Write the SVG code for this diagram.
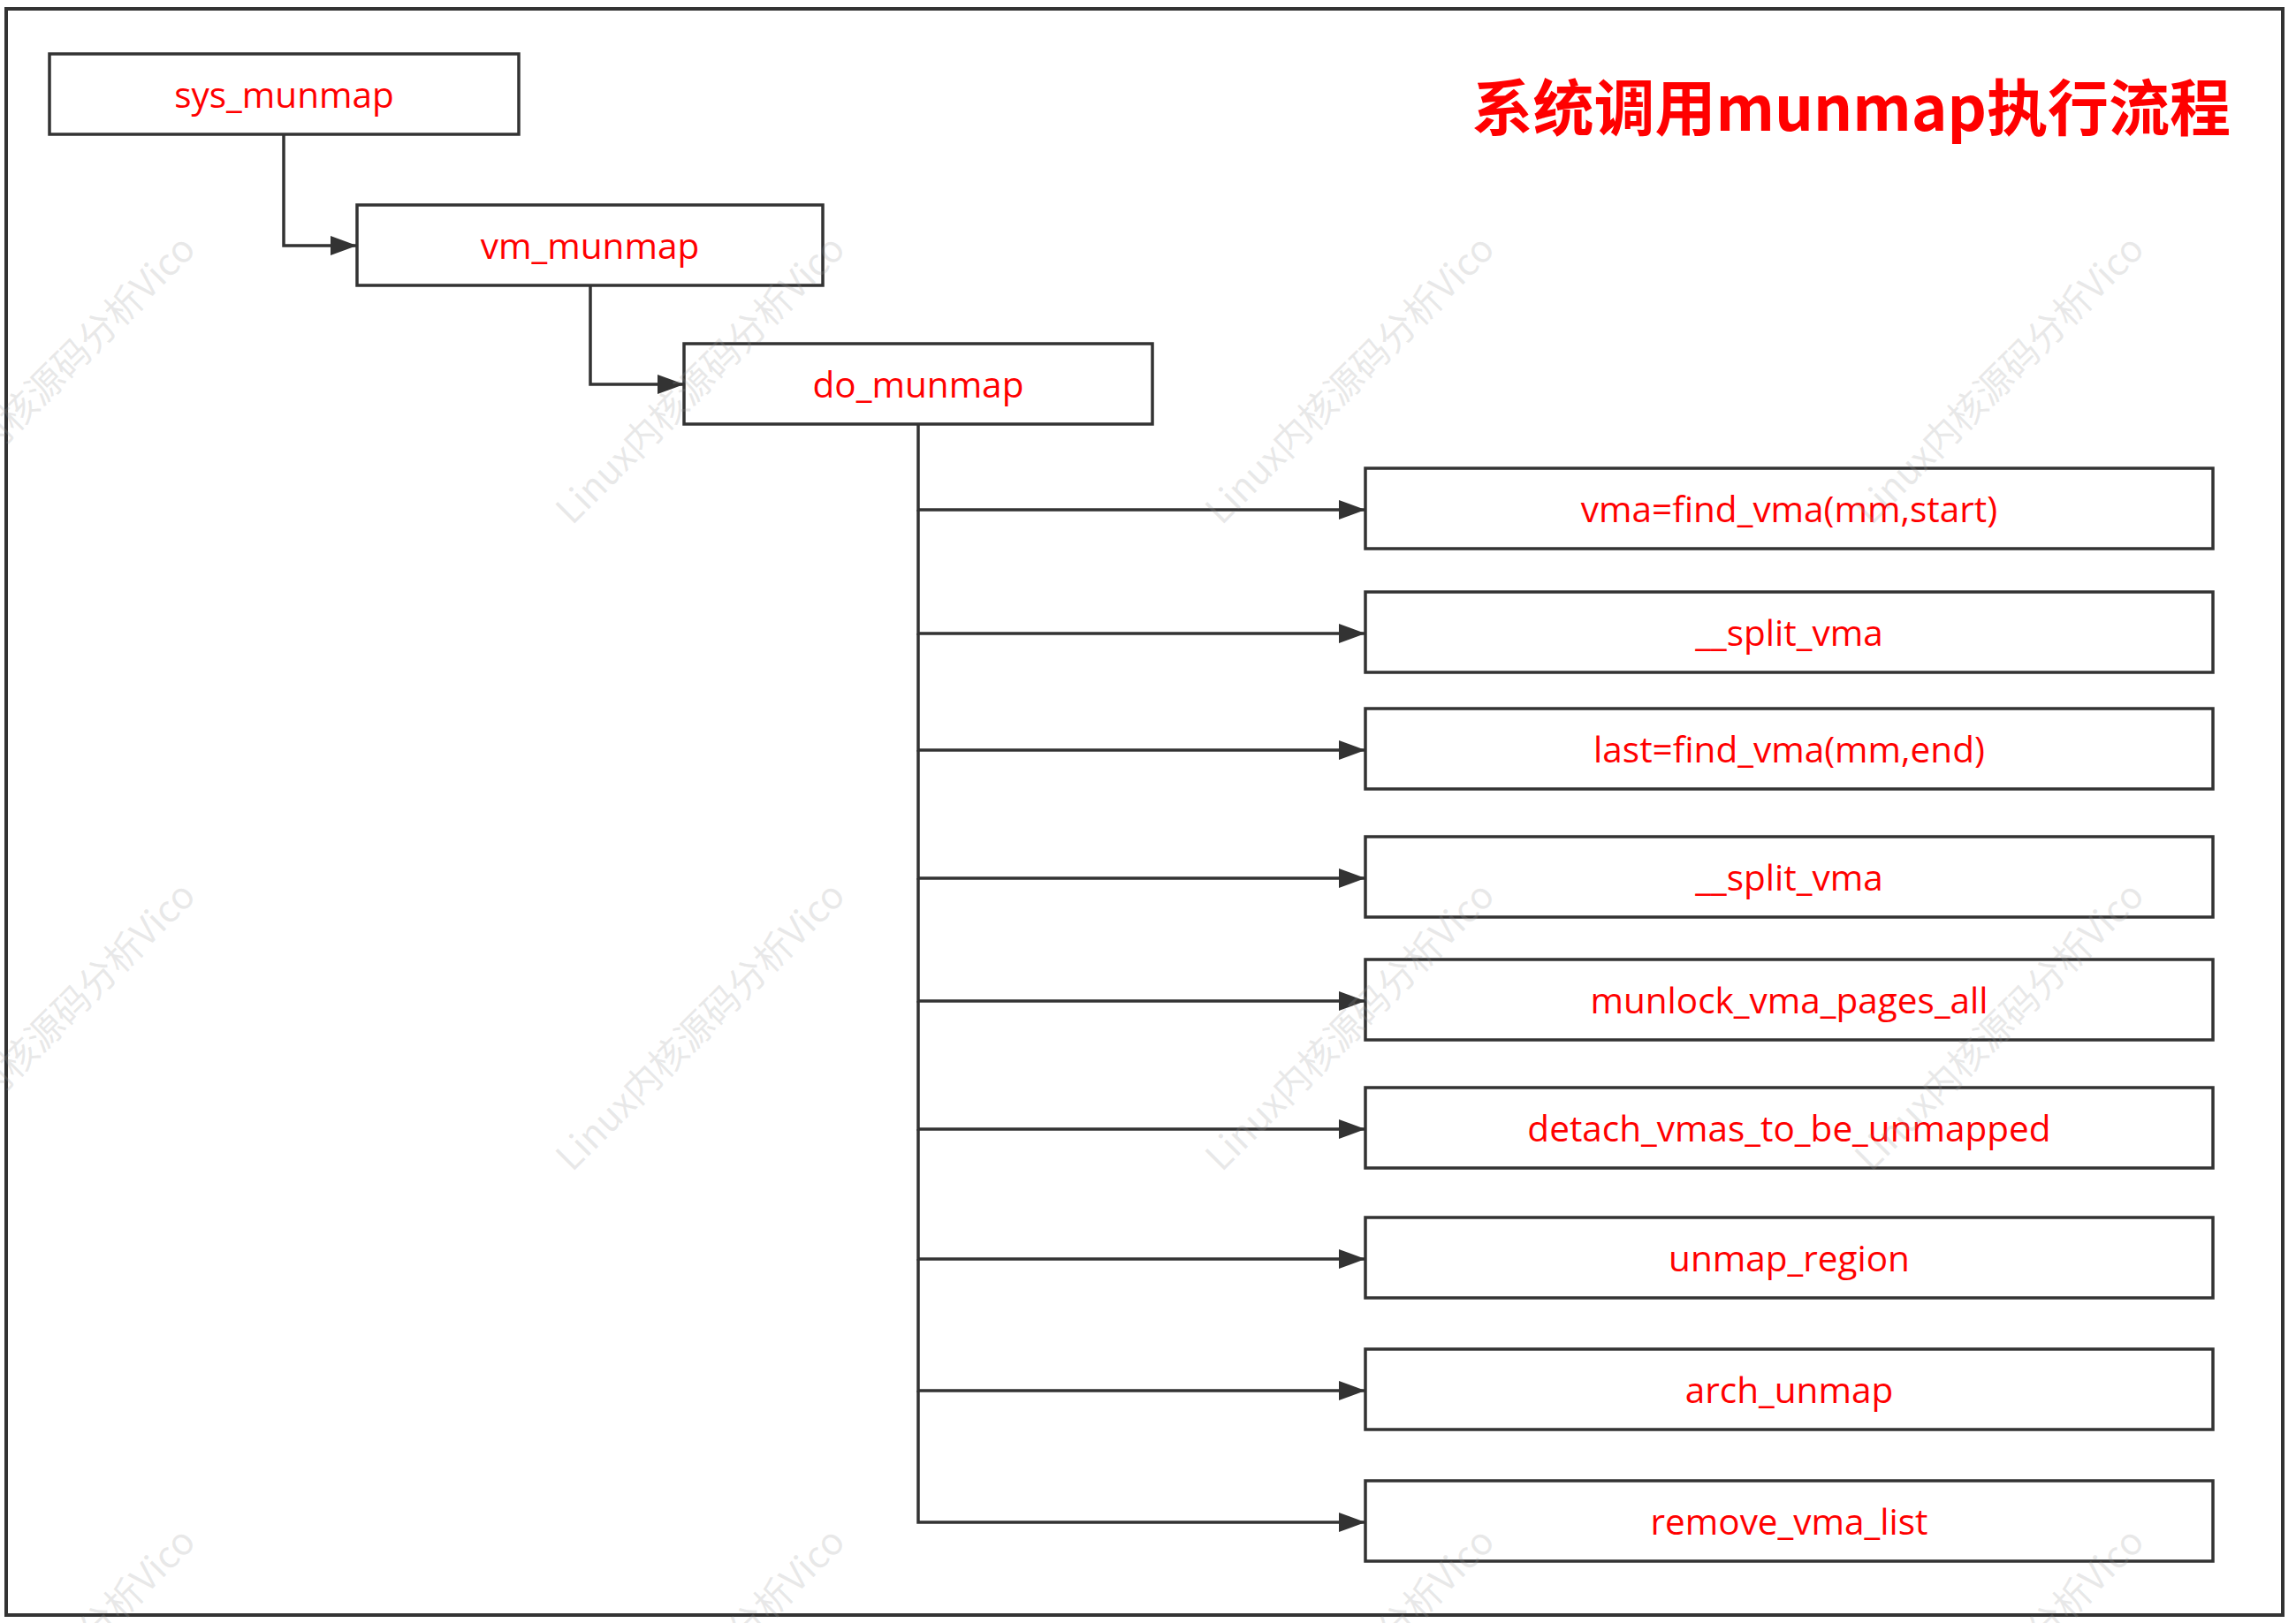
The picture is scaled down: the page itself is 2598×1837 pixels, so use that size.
<svg xmlns="http://www.w3.org/2000/svg" width="2598" height="1837" viewBox="0 0 2598 1837">
  <style>
    .box { fill: #ffffff; stroke: #333333; stroke-width: 3.5; }
    .lbl { fill: #ff0000; font-family: "Open Sans", "Noto Sans", sans-serif; font-size: 40.5px; text-anchor: middle; }
    .conn { fill: none; stroke: #333333; stroke-width: 3.5; }
    .wm { fill: #9a9a9a; fill-opacity: 0.22; font-family: "Noto Sans CJK SC", "Noto Sans", sans-serif; font-size: 42px; text-anchor: middle; }
    .title { fill: #ff0000; font-family: "Noto Sans CJK SC", "Noto Sans", sans-serif; font-size: 69px; font-weight: bold; text-anchor: end; }
  </style>
  <defs>
    <marker id="arrow" markerUnits="userSpaceOnUse" viewBox="0 0 30 22" refX="30" refY="11" markerWidth="30" markerHeight="22" orient="auto">
      <path d="M0,0 L30,11 L0,22 z" fill="#333333"/>
    </marker>
  </defs>
  <rect x="0" y="0" width="2598" height="1837" fill="#ffffff"/>
  <rect id="frame" x="7" y="10" width="2576" height="1818" fill="none" stroke="#333333" stroke-width="4"/>

  <text class="title" x="2524" y="148">系统调用munmap执行流程</text>

  <g id="connectors">
    <path class="conn" d="M321 152 V278 H404" marker-end="url(#arrow)"/>
    <path class="conn" d="M668 323 V435 H774" marker-end="url(#arrow)"/>
    <path class="conn" d="M1039 480 V577 H1545" marker-end="url(#arrow)"/>
    <path class="conn" d="M1039 577 V717 H1545" marker-end="url(#arrow)"/>
    <path class="conn" d="M1039 717 V849 H1545" marker-end="url(#arrow)"/>
    <path class="conn" d="M1039 849 V994 H1545" marker-end="url(#arrow)"/>
    <path class="conn" d="M1039 994 V1133 H1545" marker-end="url(#arrow)"/>
    <path class="conn" d="M1039 1133 V1278 H1545" marker-end="url(#arrow)"/>
    <path class="conn" d="M1039 1278 V1425 H1545" marker-end="url(#arrow)"/>
    <path class="conn" d="M1039 1425 V1574 H1545" marker-end="url(#arrow)"/>
    <path class="conn" d="M1039 1574 V1723 H1545" marker-end="url(#arrow)"/>
  </g>

  <g id="sys_munmap"><rect class="box" x="56" y="61" width="531" height="91"/><text class="lbl" x="321.5" y="122">sys_munmap</text></g>
  <g id="vm_munmap"><rect class="box" x="404" y="232" width="527" height="91"/><text class="lbl" x="667.5" y="293">vm_munmap</text></g>
  <g id="do_munmap"><rect class="box" x="774" y="389" width="530" height="91"/><text class="lbl" x="1039" y="450">do_munmap</text></g>

  <g id="find_vma_start"><rect class="box" x="1545" y="530" width="959" height="91"/><text class="lbl" x="2024.5" y="591">vma=find_vma(mm,start)</text></g>
  <g id="split_vma_1"><rect class="box" x="1545" y="670" width="959" height="91"/><text class="lbl" x="2024.5" y="731">__split_vma</text></g>
  <g id="find_vma_end"><rect class="box" x="1545" y="802" width="959" height="91"/><text class="lbl" x="2024.5" y="863">last=find_vma(mm,end)</text></g>
  <g id="split_vma_2"><rect class="box" x="1545" y="947" width="959" height="91"/><text class="lbl" x="2024.5" y="1008">__split_vma</text></g>
  <g id="munlock_vma_pages_all"><rect class="box" x="1545" y="1086" width="959" height="91"/><text class="lbl" x="2024.5" y="1147">munlock_vma_pages_all</text></g>
  <g id="detach_vmas_to_be_unmapped"><rect class="box" x="1545" y="1231" width="959" height="91"/><text class="lbl" x="2024.5" y="1292">detach_vmas_to_be_unmapped</text></g>
  <g id="unmap_region"><rect class="box" x="1545" y="1378" width="959" height="91"/><text class="lbl" x="2024.5" y="1439">unmap_region</text></g>
  <g id="arch_unmap"><rect class="box" x="1545" y="1527" width="959" height="91"/><text class="lbl" x="2024.5" y="1588">arch_unmap</text></g>
  <g id="remove_vma_list"><rect class="box" x="1545" y="1676" width="959" height="91"/><text class="lbl" x="2024.5" y="1737">remove_vma_list</text></g>

  <g id="watermarks">
    <text class="wm" transform="translate(58 430) rotate(-45)" y="14">Linux内核源码分析Vico</text>
    <text class="wm" transform="translate(793 430) rotate(-45)" y="14">Linux内核源码分析Vico</text>
    <text class="wm" transform="translate(1528 430) rotate(-45)" y="14">Linux内核源码分析Vico</text>
    <text class="wm" transform="translate(2263 430) rotate(-45)" y="14">Linux内核源码分析Vico</text>
    <text class="wm" transform="translate(58 1162) rotate(-45)" y="14">Linux内核源码分析Vico</text>
    <text class="wm" transform="translate(793 1162) rotate(-45)" y="14">Linux内核源码分析Vico</text>
    <text class="wm" transform="translate(1528 1162) rotate(-45)" y="14">Linux内核源码分析Vico</text>
    <text class="wm" transform="translate(2263 1162) rotate(-45)" y="14">Linux内核源码分析Vico</text>
    <text class="wm" transform="translate(58 1893) rotate(-45)" y="14">Linux内核源码分析Vico</text>
    <text class="wm" transform="translate(793 1893) rotate(-45)" y="14">Linux内核源码分析Vico</text>
    <text class="wm" transform="translate(1528 1893) rotate(-45)" y="14">Linux内核源码分析Vico</text>
    <text class="wm" transform="translate(2263 1893) rotate(-45)" y="14">Linux内核源码分析Vico</text>
  </g>
</svg>
